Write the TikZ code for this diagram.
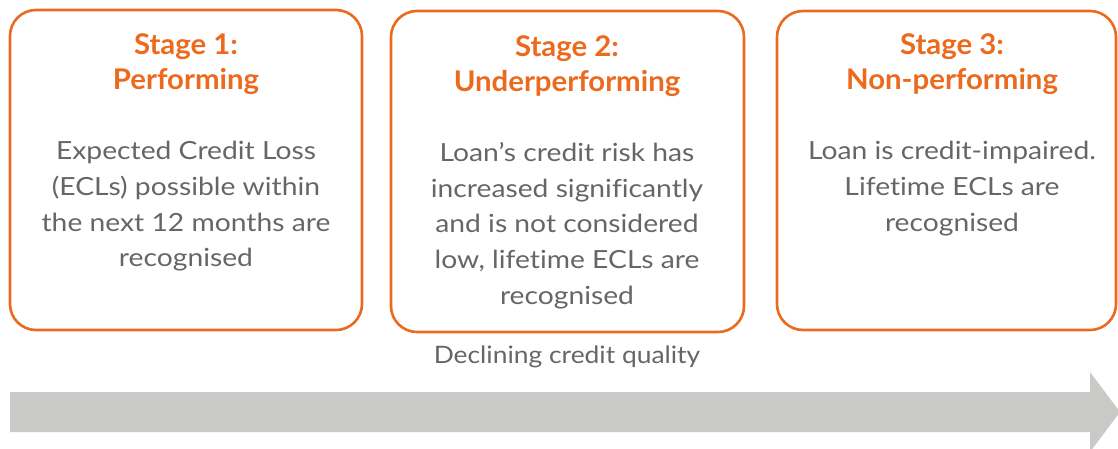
\documentclass[tikz,border=0pt]{standalone}
\usepackage{fontspec}
\setmainfont{Lato}[Ligatures={NoCommon}]
\newfontfamily\bodyfont{Lato}[FakeStretch=1.13,Ligatures={NoCommon}]
\newfontfamily\titlefont{Lato}[FakeStretch=1.03,Ligatures={NoCommon}]
\newfontfamily\labfont{Lato}[FakeStretch=1.1,Ligatures={NoCommon}]
\definecolor{ingorange}{HTML}{EC6A1E}
\definecolor{txtgray}{HTML}{666666}
\definecolor{arrowgray}{HTML}{C9C9C7}
\begin{document}
\begin{tikzpicture}[x=1pt,y=-1pt,
  stagebox/.style={draw=ingorange,line width=2.6pt,rounded corners=26pt},
  title/.style={anchor=north,inner sep=0pt,align=center,text=ingorange,
    font=\titlefont\bfseries\fontsize{28.5}{35}\selectfont},
  body/.style={anchor=north,inner sep=0pt,align=center,text=txtgray,
    font=\bodyfont\fontsize{25}{35.7}\selectfont}]
\useasboundingbox (0,0) rectangle (1118,448);
\clip (0,0) rectangle (1118,448);
% boxes
\draw[stagebox] (10,10) rectangle (362,330);
\draw[stagebox] (391,11) rectangle (744,332);
\draw[stagebox] (777,11) rectangle (1116,330);
% titles
\node[title] (t1) at (186,33) {Stage 1:\\Performing};
\node[title] (t2) at (567,35) {Stage 2:\\Underperforming};
\node[title] (t3) at (952,33) {Stage 3:\\Non-performing};
% bodies
\node[body] (d1) at (186,141) {Expected Credit Loss\\(ECLs) possible within\\the next 12 months are\\recognised};
\node[body] (d2) at (567,142) {Loan’s credit risk has\\increased significantly\\and is not considered\\low, lifetime ECLs are\\recognised};
\node[body] (d3) at (952,141) {Loan is credit-impaired.\\Lifetime ECLs are\\recognised};
% arrow
\node[anchor=center,inner sep=0pt,text=txtgray,font=\labfont\fontsize{24}{28}\selectfont] (lab) at (567,357) {Declining credit quality};
\fill[arrowgray] (10,392) -- (1090,392) -- (1090,372) -- (1120,412) -- (1090,452) -- (1090,432) -- (10,432) -- cycle;
\end{tikzpicture}
\end{document}
